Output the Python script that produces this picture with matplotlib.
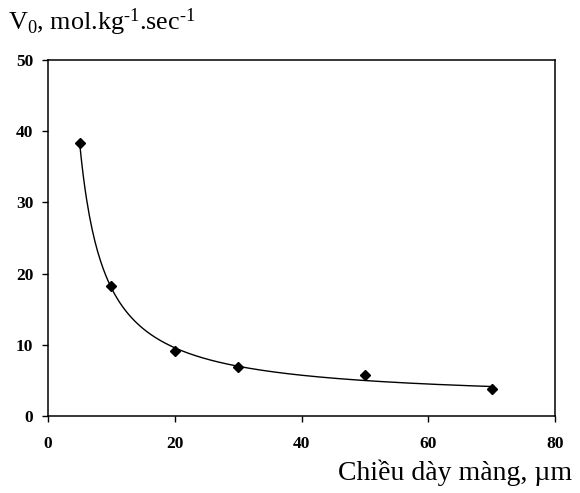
import numpy as np
import matplotlib
matplotlib.use('Agg')
import matplotlib.pyplot as plt

plt.rcParams['font.family'] = ['Liberation Serif', 'DejaVu Serif']
plt.rcParams['mathtext.fontset'] = 'custom'
plt.rcParams['mathtext.rm'] = 'Liberation Serif'
plt.rcParams['mathtext.it'] = 'Liberation Serif'

# Data
thickness = [5, 10, 20, 30, 50, 70]
v0 = [38.3, 18.2, 9.1, 6.9, 5.7, 3.8]

x_ticks = [0, 20, 40, 60, 80]
y_ticks = [0, 10, 20, 30, 40, 50]

# Trendline y = c + a / (x + d), fitted to the points
xs = np.array(thickness, dtype=float)
ys = np.array(v0, dtype=float)
best = None
for d in np.linspace(-4.5, 10, 600):
    A = np.column_stack([1.0 / (xs + d), np.ones_like(xs)])
    coef, res, _, _ = np.linalg.lstsq(A, ys, rcond=None)
    err = np.sum((A @ coef - ys) ** 2)
    if best is None or err < best[0]:
        best = (err, d, coef)
_, d_fit, (a_fit, c_fit) = best
x_line = np.linspace(5, 70, 300)
y_line = c_fit + a_fit / (x_line + d_fit)

fig = plt.figure(figsize=(5.8, 4.93), dpi=100)
ax = fig.add_axes([48 / 580, 1 - 416 / 493, 507 / 580, 356 / 493])

ax.plot(x_line, y_line, color='black', lw=1.0)
ax.plot(thickness, v0, linestyle='none', marker='D', ms=5, color='black')

ax.set_xlim(0, 80)
ax.set_ylim(0, 50)
ax.set_xticks(x_ticks)
ax.set_yticks(y_ticks)
ax.tick_params(direction='out', length=4.5, width=1, labelsize=12.5)
ax.tick_params(axis='y', pad=6)
ax.tick_params(axis='x', pad=10)
for lab in ax.get_xticklabels() + ax.get_yticklabels():
    lab.set_fontweight('bold')
for sp in ax.spines.values():
    sp.set_linewidth(1.1)

fig.text(8 / 580, 1 - 30 / 493, r'V$_0$, mol.kg$^{\text{-1}}$.sec$^{\text{-1}}$',
         fontsize=18.8, va='baseline', ha='left')
fig.text(572 / 580, 1 - 480 / 493, 'Chiều dày màng, µm', fontsize=20,
         va='baseline', ha='right')

fig.savefig('out.png', dpi=100)
